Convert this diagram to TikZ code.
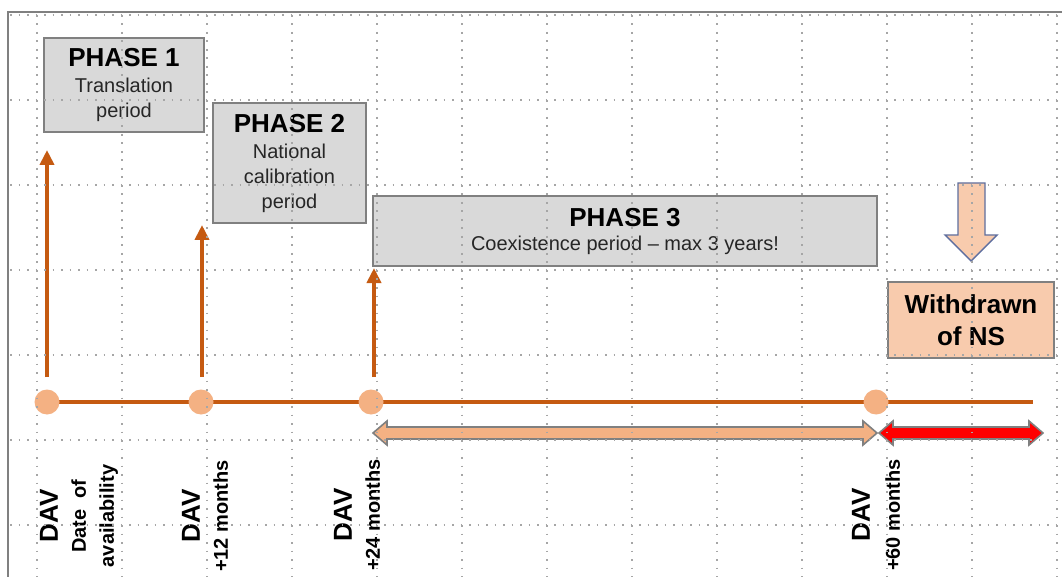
\documentclass[tikz,border=0pt]{standalone}
\usepackage{fontspec}
\setmainfont{Liberation Sans}
\usetikzlibrary{arrows.meta}

\definecolor{tlorange}{HTML}{C55A11}
\definecolor{dotfill}{HTML}{F4B183}
\definecolor{paleorange}{HTML}{F8CBAD}
\definecolor{boxfill}{HTML}{D9D9D9}
\definecolor{boxline}{HTML}{808080}
\definecolor{gridgrey}{HTML}{A6A6A6}
\definecolor{slateline}{HTML}{5F6F9F}
\definecolor{subtext}{HTML}{262626}

\tikzset{
  gridline/.style={gridgrey, line width=1.4pt, dash pattern=on 1.8pt off 6.7pt},
  framerule/.style={boxline, line width=2pt},
  timeline/.style={tlorange, line width=3.5pt},
  milestone/.style={circle, fill=dotfill, minimum size=25pt, inner sep=0pt},
  phasearrow/.style={tlorange, line width=4pt, -{Triangle[width=14pt,length=15pt]}},
  phasebox/.style={draw=boxline, line width=2pt, fill=boxfill, inner sep=0pt,
    align=center, text=subtext, font=\fontsize{20}{25}\selectfont},
  endbox/.style={draw=boxline, line width=2pt, fill=paleorange, inner sep=0pt,
    align=center, font=\fontsize{26}{32}\selectfont\bfseries},
  datelabel/.style={rotate=90, align=center, inner sep=0pt,
    font=\fontsize{20}{28}\selectfont\bfseries},
  spanarrow/.style={draw=boxline, line width=1.6pt, line join=miter},
}
\newcommand\titlefont{\fontsize{26}{28}\selectfont\bfseries\color{black}}
\newcommand\davfont{\fontsize{26}{28}\selectfont}

\begin{document}
\begin{tikzpicture}[x=1pt, y=-1pt]
\useasboundingbox (0,0) rectangle (1062,577);
\fill[white] (0,0) rectangle (1062,577);

% frame
\draw[framerule] (8,577) -- (8,12) -- (1062,12);

% timeline with milestones
\coordinate (m1) at (47,402);
\coordinate (tend) at (1033,402);
\draw[timeline] (m1) -- (tend);
\node[milestone] (c1) at (m1) {};
\node[milestone] (c2) at (201,402) {};
\node[milestone] (c3) at (371,402) {};
\node[milestone] (c4) at (876,402) {};

% phase boxes
\node[phasebox, minimum width=160pt, minimum height=94pt] (p1) at (124,85)
  {{\titlefont PHASE 1}\\[1pt]Translation\\period};
\node[phasebox, minimum width=153pt, minimum height=120pt] (p2) at (289.5,163)
  {{\titlefont PHASE 2}\\[1pt]National\\calibration\\period};
\node[phasebox, minimum width=504pt, minimum height=70pt] (p3) at (625,231)
  {{\titlefont PHASE 3}\\[-1pt]Coexistence period -- max 3 years!};
\node[endbox, minimum width=166pt, minimum height=76pt] (ns) at (971,320)
  {Withdrawn\\of NS};

% arrows rising from the timeline to each phase
\coordinate (s1) at (47,377);  \coordinate (t1) at (47,150);
\coordinate (s2) at (202,377); \coordinate (t2) at (202,225);
\coordinate (s3) at (374,377); \coordinate (t3) at (374,268);
\draw[phasearrow] (s1) -- (t1);
\draw[phasearrow] (s2) -- (t2);
\draw[phasearrow] (s3) -- (t3);

% coexistence span and withdrawal span
\path[spanarrow, fill=dotfill]
  (373,433) -- (387,421) -- (387,427) -- (863,427) -- (863,421) -- (877,433)
  -- (863,445) -- (863,439) -- (387,439) -- (387,445) -- cycle;
\path[spanarrow, fill=red]
  (879,433) -- (893,421) -- (893,427) -- (1029,427) -- (1029,421) -- (1043,433)
  -- (1029,445) -- (1029,439) -- (893,439) -- (893,445) -- cycle;

% down arrow pointing at the withdrawal box
\path[draw=slateline, line width=1.4pt, fill=paleorange, line join=miter]
  (958,183) -- (985,183) -- (985,235) -- (997,235) -- (971,261)
  -- (945,235) -- (958,235) -- cycle;

% date labels
\node[datelabel] (d1) at (79,516) {{\davfont DAV}\\Date\ \ of\\availability};
\node[datelabel] (d2) at (205,516) {{\davfont DAV}\\+12 months};
\node[datelabel] (d3) at (357,515) {{\davfont DAV}\\+24 months};
\node[datelabel] (d4) at (876,515) {{\davfont DAV}\\[2pt]+60 months};

% dotted grid drawn over everything
\foreach \x in {37,122,...,1057}
  \draw[gridline] (\x,15) -- (\x,577);
\foreach \y in {15,100,...,525}
  \draw[gridline] (10,\y) -- (1062,\y);
\end{tikzpicture}
\end{document}
